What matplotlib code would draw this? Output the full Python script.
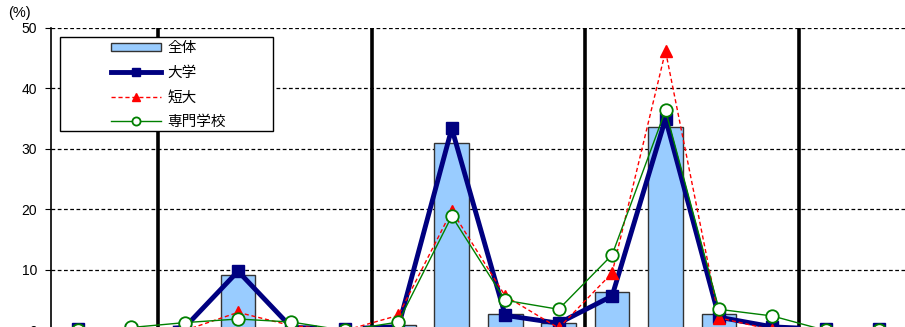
import matplotlib
matplotlib.use("Agg")
import matplotlib.pyplot as plt
from matplotlib.patches import Rectangle
import numpy as np

plt.rcParams['font.family'] = ['Liberation Sans', 'Noto Sans CJK JP', 'DejaVu Sans']

# values per category (%), 16 categories split into 5 groups
total   = [0.0, 0.0, 0.3, 9.2, 0.0, 0.0, 0.9, 31.0, 2.8, 1.2, 6.3, 33.7, 2.8, 0.0, 0.0, 0.0]
univ    = [0.3, 0.0, 0.5, 9.8, 0.5, 0.3, 0.6, 33.4, 2.5, 1.2, 5.7, 35.0, 2.2, 0.6, 0.2, 0.2]
junior  = [0.0, 0.0, 0.0, 3.0, 0.8, 0.0, 2.5, 19.8, 5.7, 0.4, 9.5, 46.2, 2.1, 0.1, 0.0, 0.0]
voc     = [0.0, 0.5, 1.3, 1.9, 1.4, 0.0, 1.4, 18.9, 5.0, 3.5, 12.5, 36.4, 3.5, 2.4, 0.0, 0.0]
group_breaks = [1.5, 5.5, 9.5, 13.5]
yticks = [0, 10, 20, 30, 40, 50]

W, H = 905, 327
fig = plt.figure(figsize=(W / 100, H / 100), dpi=100)
ax = fig.add_axes([51 / W, 1 - 330.5 / H, 855 / W, (330.5 - 28) / H])

x = np.arange(len(total))
bars = ax.bar(x, total, width=0.65, color='#99CCFF', edgecolor='#333333', linewidth=1.0,
              zorder=2)

for xb in group_breaks:
    ax.axvline(xb, color='black', lw=2.6, zorder=1)
for yv in yticks[1:]:
    ax.axhline(yv, color='black', lw=0.9, ls=(0, (3, 2)), zorder=1)

l1, = ax.plot(x, univ, color='#000080', lw=3.5, marker='s', ms=9, zorder=4)
l2, = ax.plot(x, junior, color='red', lw=1.0, ls=(0, (3, 2)), marker='^', ms=9, zorder=5)
l3, = ax.plot(x, voc, color='green', lw=1.0, marker='o', ms=9, mfc='white', mec='green',
              mew=1.3, zorder=6)

ax.set_xlim(-0.5, 15.5)
ax.set_ylim(0, 50)
ax.set_yticks(yticks)
ax.set_xticks([])
ax.tick_params(axis='y', length=4, labelsize=10, pad=6)
for s in ['top', 'right', 'bottom']:
    ax.spines[s].set_visible(False)
ax.spines['left'].set_linewidth(1.2)

fig.text(8 / W, 1 - 13 / H, '(%)', fontsize=10.5, va='center', ha='left')

# legend box drawn separately so it can be wider than its entries
box = Rectangle((60 / W, 1 - 131 / H), 213 / W, 94 / H, transform=fig.transFigure,
                facecolor='white', edgecolor='black', lw=1.0, zorder=9)
fig.patches.append(box)
leg = fig.legend([bars, l1, l2, l3], ['全体', '大学', '短大', '専門学校'],
                 loc='upper left', bbox_to_anchor=(107 / W, 1 - 37 / H),
                 prop={'family': ['Noto Sans CJK JP', 'DejaVu Sans'], 'size': 10.5},
                 frameon=False, handlelength=3.4, handleheight=0.5,
                 labelspacing=0.72, borderaxespad=0, borderpad=0.3,
                 handletextpad=0.45, markerscale=0.65)
leg.set_zorder(10)

fig.savefig('out.png', dpi=100)
